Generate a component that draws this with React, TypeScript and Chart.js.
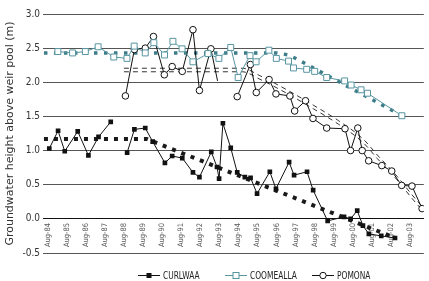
import React, { useEffect, useRef } from 'react';
import { Chart, registerables } from 'chart.js';

Chart.register(...registerables);

// ---- Axis ticks ----
const xTickLabels = ['Aug-84', 'Aug-85', 'Aug-86', 'Aug-87', 'Aug-88', 'Aug-89', 'Aug-90', 'Aug-91', 'Aug-92', 'Aug-93', 'Aug-94', 'Aug-95', 'Aug-96', 'Aug-97', 'Aug-98', 'Aug-99', 'Aug-00', 'Aug-01', 'Aug-02', 'Aug-03'];
const xTickYears = [1984.583, 1985.583, 1986.583, 1987.583, 1988.583, 1989.583, 1990.583, 1991.583, 1992.583, 1993.583, 1994.583, 1995.583, 1996.583, 1997.583, 1998.583, 1999.583, 2000.583, 2001.583, 2002.583, 2003.583];

// ---- CURLWAA ----
const curlwaaYears = [1984.67, 1985.13, 1985.48, 1986.16, 1986.72, 1987.25, 1987.89, 1988.30, 1988.75, 1989.13, 1989.70, 1990.09, 1990.73, 1991.11, 1991.64, 1992.20, 1992.54, 1993.16, 1993.46, 1993.57, 1993.77, 1994.18, 1994.52, 1994.92, 1995.22, 1995.56, 1996.23, 1996.55, 1997.24, 1997.50, 1998.18, 1998.50, 1999.26, 2000.12, 2000.46, 2000.81, 2001.11, 2001.42, 2002.07, 2002.79];
const curlwaaValues = [1.03, 1.29, 0.99, 1.28, 0.93, 1.20, 1.42, null, 0.97, 1.31, 1.33, 1.13, 0.82, 0.92, 0.89, 0.68, 0.61, 0.98, 0.76, 0.59, 1.40, 1.04, 0.68, 0.61, 0.60, 0.37, 0.69, 0.44, 0.83, 0.64, 0.69, 0.42, -0.03, 0.03, 0.00, 0.12, -0.10, -0.22, -0.25, -0.28];
const curlwaaTrendYears = [1984.39, 1989.77, 2002.80];
const curlwaaTrendValues = [1.17, 1.17, -0.28];

// ---- COOMEALLA ----
const coomeallaYears = [1985.12, 1985.89, 1986.56, 1987.23, 1988.05, 1988.74, 1989.12, 1989.70, 1990.15, 1990.71, 1991.15, 1991.63, 1992.20, 1992.99, 1993.56, 1994.18, 1994.57, 1995.19, 1995.51, 1996.18, 1996.57, 1997.21, 1997.47, 1998.16, 1998.58, 1999.21, 2000.15, 2000.49, 2001.01, 2001.35, 2003.15];
const coomeallaValues = [2.45, 2.43, 2.45, 2.52, 2.37, 2.35, 2.53, 2.43, 2.58, 2.40, 2.60, 2.49, 2.30, 2.42, 2.35, 2.51, 2.07, 2.39, 2.30, 2.47, 2.35, 2.31, 2.21, 2.19, 2.16, 2.07, 2.02, 1.96, 1.89, 1.84, 1.51];
const coomeallaTrendYears = [1984.39, 1996.59, 1997.24, 1997.71, 2003.06];
const coomeallaTrendValues = [2.43, 2.43, 2.40, 2.33, 1.525];

// ---- POMONA ----
const pomonaYears = [1988.66, 1989.13, 1989.70, 1990.13, 1990.70, 1991.11, 1991.64, 1992.20, 1992.54, 1993.14, 1993.49, 1994.00, 1994.52, 1995.21, 1995.52, 1996.19, 1996.55, 1997.28, 1997.53, 1998.10, 1998.49, 1999.21, 2000.17, 2000.46, 2000.84, 2001.07, 2001.41, 2002.10, 2002.62, 2003.14, 2003.68, 2004.21];
const pomonaValues = [1.80, 2.48, 2.50, 2.67, 2.11, 2.23, 2.16, 2.77, 1.88, 2.49, 2.02, null, 1.79, 2.26, 1.85, 2.04, 1.83, 1.80, 1.58, 1.73, 1.47, 1.33, 1.32, 1.00, 1.33, 1.00, 0.85, 0.78, 0.70, 0.49, 0.48, 0.15];
const pomonaUnmarked = [1993.49];
const pomonaTrendYears = [1988.58, 1994.78, 1995.71, 1997.21, 1998.50, 1999.84, 2001.13, 2001.86, 2002.89, 2003.67, 2004.29];
const pomonaTrendValues = [2.18, 2.18, 2.07, 1.85, 1.64, 1.41, 1.14, 0.91, 0.60, 0.33, 0.13];

const TEAL = '#5795a1';
const TEAL_DARK = '#3d7d89';
const NARROW = "'Liberation Sans Narrow', 'DejaVu Sans Condensed', 'Arial Narrow', 'Liberation Sans', sans-serif";

const pts = (xs: number[], ys: (number | null)[], dy = 0) =>
  xs.map((x, i) => ({ x, y: ys[i] === null ? null : (ys[i] as number) + dy }));

const legendPlugin = {
  id: 'customLegend',
  afterDraw(chart: any) {
    const ctx = chart.ctx as CanvasRenderingContext2D;
    const y = 275;
    const items = [
      { label: 'CURLWAA', x: 138, color: '#111', marker: 'rectFilled' },
      { label: 'COOMEALLA', x: 225, color: TEAL, marker: 'rectHollow' },
      { label: 'POMONA', x: 312, color: '#111', marker: 'circle' },
    ];
    ctx.save();
    items.forEach((it) => {
      ctx.strokeStyle = it.color;
      ctx.lineWidth = 1;
      ctx.beginPath();
      ctx.moveTo(it.x, y + 0.5);
      ctx.lineTo(it.x + 22, y + 0.5);
      ctx.stroke();
      const cx = it.x + 11;
      if (it.marker === 'rectFilled') {
        ctx.fillStyle = '#111';
        ctx.fillRect(cx - 2.5, y - 2, 5, 5);
      } else if (it.marker === 'rectHollow') {
        ctx.fillStyle = '#fff';
        ctx.fillRect(cx - 3, y - 2.5, 6, 6);
        ctx.strokeRect(cx - 3, y - 2.5, 6, 6);
      } else {
        ctx.fillStyle = '#fff';
        ctx.beginPath();
        ctx.arc(cx, y + 0.5, 3.2, 0, Math.PI * 2);
        ctx.fill();
        ctx.stroke();
      }
      ctx.save();
      ctx.translate(it.x + 25, y + 1);
      ctx.scale(0.83, 1);
      ctx.fillStyle = '#222';
      ctx.font = `10px ${NARROW}`;
      ctx.textAlign = 'left';
      ctx.textBaseline = 'middle';
      ctx.fillText(it.label, 0, 0);
      ctx.restore();
    });
    ctx.restore();
  },
};

export default function App() {
  const canvasRef = useRef<HTMLCanvasElement | null>(null);

  useEffect(() => {
    document.body.style.margin = '0';
    if (!canvasRef.current) return;
    const chart = new Chart(canvasRef.current, {
      type: 'line',
      data: {
        datasets: [
          {
            label: 'CURLWAA',
            data: pts(curlwaaYears, curlwaaValues),
            borderColor: '#111',
            borderWidth: 1,
            pointStyle: 'rect',
            pointRadius: 3.3,
            pointBackgroundColor: '#111',
            pointBorderColor: '#111',
            pointBorderWidth: 0,
            spanGaps: false,
          },
          {
            label: 'COOMEALLA',
            data: pts(coomeallaYears, coomeallaValues),
            borderColor: TEAL,
            borderWidth: 1,
            pointStyle: 'rect',
            pointRadius: 4.2,
            pointBackgroundColor: '#fff',
            pointBorderColor: TEAL,
            pointBorderWidth: 1,
          },
          {
            label: 'POMONA',
            data: pts(pomonaYears, pomonaValues),
            borderColor: '#111',
            borderWidth: 1,
            pointStyle: 'circle',
            pointRadius: (c: any) => (pomonaUnmarked.includes(pomonaYears[c.dataIndex]) ? 0 : 3.3),
            pointBackgroundColor: '#fff',
            pointBorderColor: '#111',
            pointBorderWidth: 1,
            spanGaps: false,
          },
          {
            label: 'CURLWAA trend',
            data: pts(curlwaaTrendYears, curlwaaTrendValues),
            borderColor: '#1a1a1a',
            borderWidth: 4,
            borderDash: [4, 6],
            pointRadius: 0,
          },
          {
            label: 'COOMEALLA trend',
            data: pts(coomeallaTrendYears, coomeallaTrendValues),
            borderColor: TEAL_DARK,
            borderWidth: 3.5,
            borderDash: [3.5, 6.5],
            pointRadius: 0,
          },
          {
            label: 'POMONA trend a',
            data: pts(pomonaTrendYears, pomonaTrendValues, 0.026),
            borderColor: '#333',
            borderWidth: 1,
            borderDash: [5, 4],
            pointRadius: 0,
            cubicInterpolationMode: 'monotone',
          },
          {
            label: 'POMONA trend b',
            data: pts(pomonaTrendYears, pomonaTrendValues, -0.026),
            borderColor: '#333',
            borderWidth: 1,
            borderDash: [5, 4],
            pointRadius: 0,
            cubicInterpolationMode: 'monotone',
          },
        ] as any,
      },
      options: {
        animation: false,
        responsive: false,
        devicePixelRatio: 1,
        layout: { padding: { top: 14, right: 0, bottom: 28, left: 0 } },
        plugins: { legend: { display: false }, tooltip: { enabled: false } },
        scales: {
          x: {
            type: 'linear',
            min: 1984.34,
            max: 2004.3,
            position: { y: 0 } as any,
            grid: { display: false, drawTicks: false },
            border: { display: true, color: '#111', width: 1 },
            afterBuildTicks: (scale: any) => {
              scale.ticks = xTickYears.map((value) => ({ value }));
            },
            ticks: {
              autoSkip: false,
              minRotation: 90,
              maxRotation: 90,
              padding: 4,
              color: '#555',
              font: { family: NARROW, size: 7.5 },
              callback: (_v: any, i: number) => xTickLabels[i],
            },
          },
          y: {
            type: 'linear',
            min: -0.5,
            max: 3.0,
            afterFit: (scale: any) => {
              scale.width = 43;
            },
            grid: { color: '#555', lineWidth: 1, drawTicks: false },
            border: { display: false },
            ticks: {
              stepSize: 0.5,
              padding: 3,
              color: '#333',
              font: { family: NARROW, size: 10 },
              callback: (v: any) => Number(v).toFixed(1),
            },
            title: {
              display: true,
              text: 'Groundwater height above weir pool (m)',
              color: '#333',
              font: { family: "'DejaVu Sans', sans-serif", size: 11 },
              padding: { top: 4, bottom: 0 },
            },
          },
        },
      },
      plugins: [legendPlugin],
    });
    return () => chart.destroy();
  }, []);

  return (
    <div style={{ width: 429, height: 281 }}>
      <canvas ref={canvasRef} width={429} height={281} style={{ display: 'block' }} />
    </div>
  );
}
